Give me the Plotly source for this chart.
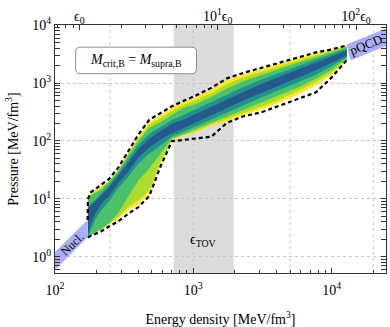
import numpy as np
import plotly.graph_objects as go

# energy density grid [MeV/fm^3]
eps = [173, 180, 195, 215, 245, 285, 335, 400, 480, 580, 700, 850, 1050, 1350,
       1750, 2300, 3100, 4200, 5700, 7700, 10000, 12800]

# log10(pressure / MeV fm^-3): upper / lower edge of each band
logp_yellow_hi = [0.978, 1.081, 1.142, 1.211, 1.305, 1.495, 1.779, 2.064, 2.323, 2.443, 2.564,
                  2.667, 2.754, 2.883, 3.047, 3.150, 3.236, 3.340, 3.426, 3.512, 3.572, 3.641]
logp_lgreen_hi = [0.969, 1.064, 1.124, 1.185, 1.297, 1.478, 1.754, 2.029, 2.271, 2.391, 2.512,
                  2.616, 2.702, 2.822, 2.978, 3.098, 3.193, 3.297, 3.391, 3.478, 3.555, 3.633]
logp_green_hi = [0.960, 1.047, 1.098, 1.150, 1.288, 1.460, 1.719, 1.995, 2.219, 2.323, 2.443,
                 2.564, 2.633, 2.754, 2.900, 3.029, 3.133, 3.245, 3.348, 3.443, 3.529, 3.616]
logp_teal_hi = [0.857, 0.909, 0.978, 1.081, 1.236, 1.426, 1.667, 1.926, 2.116, 2.236, 2.357,
                2.443, 2.547, 2.667, 2.797, 2.926, 3.055, 3.176, 3.288, 3.400, 3.495, 3.590]
logp_blue_hi = [0.823, 0.874, 0.943, 1.047, 1.185, 1.392, 1.598, 1.857, 2.029, 2.167, 2.288,
                2.366, 2.469, 2.590, 2.710, 2.840, 2.978, 3.107, 3.228, 3.348, 3.452, 3.555]
logp_blue_lo = [0.374, 0.564, 0.754, 0.909, 1.047, 1.271, 1.460, 1.719, 1.892, 2.029, 2.133,
                2.228, 2.331, 2.452, 2.572, 2.702, 2.840, 2.969, 3.098, 3.228, 3.357, 3.478]
logp_teal_lo = [0.357, 0.443, 0.650, 0.805, 0.960, 1.185, 1.374, 1.616, 1.788, 1.926, 2.081,
                2.167, 2.262, 2.383, 2.495, 2.616, 2.754, 2.883, 3.012, 3.150, 3.297, 3.452]
logp_green_lo = [0.349, 0.383, 0.426, 0.478, 0.581, 0.754, 1.029, 1.323, 1.529, 1.788, 2.047,
                 2.124, 2.211, 2.323, 2.426, 2.547, 2.667, 2.797, 2.926, 3.081, 3.236, 3.426]
logp_lgreen_lo = [0.343, 0.374, 0.417, 0.469, 0.573, 0.685, 0.857, 0.978, 1.150, 1.650, 2.029,
                  2.107, 2.176, 2.288, 2.374, 2.486, 2.598, 2.719, 2.866, 3.021, 3.185, 3.409]
logp_yellow_lo = [0.340, 0.371, 0.412, 0.461, 0.564, 0.650, 0.797, 0.909, 1.098, 1.616, 2.021,
                  2.090, 2.159, 2.262, 2.340, 2.452, 2.547, 2.667, 2.805, 2.960, 3.150, 3.400]

# dashed envelope
eps_dash_hi = [172] + eps
logp_dash_hi = [0.633, 0.995, 1.107, 1.167, 1.236, 1.340, 1.529, 1.814, 2.107, 2.366, 2.478, 2.598,
                2.693, 2.788, 2.917, 3.081, 3.176, 3.262, 3.362, 3.443, 3.529, 3.581, 3.650]
logp_dash_lo = [0.331, 0.357, 0.392, 0.435, 0.521, 0.607, 0.736, 0.857, 1.047, 1.564, 1.995,
                2.021, 2.038, 2.073, 2.314, 2.426, 2.495, 2.607, 2.728, 2.840, 3.098, 3.391]

# nuclear and pQCD limits
nucl_eps = [100, 172]
logp_nucl_hi = [0.081, 0.633]
logp_nucl_lo = [-0.229, 0.335]
pqcd_eps_hi = [12800, 26000]
logp_pqcd_hi = [3.667, 3.965]
pqcd_eps_lo = [13700, 26000]
logp_pqcd_lo = [3.391, 3.660]

eps0 = 150
eps_tov = [720, 1960]
grid_eps = [250, 1000, 5000, 20000]

band_col = "#aaaef5"
levels = [
    (logp_yellow_lo, logp_yellow_hi, "#fde725"),
    (logp_lgreen_lo, logp_lgreen_hi, "#addc30"),
    (logp_green_lo, logp_green_hi, "#4bc16c"),
    (logp_teal_lo, logp_teal_hi, "#21918c"),
    (logp_blue_lo, logp_blue_hi, "#24598b"),
]

fig = go.Figure()

for lo, hi, col in levels:
    fig.add_trace(go.Scatter(
        x=eps + eps[::-1],
        y=list(10 ** np.array(hi)) + list(10 ** np.array(lo[::-1])),
        fill="toself", fillcolor=col, mode="lines",
        line=dict(color=col, width=0.5), hoverinfo="skip", showlegend=False))

# nucl band
fig.add_trace(go.Scatter(
    x=nucl_eps + nucl_eps[::-1],
    y=list(10 ** np.array(logp_nucl_hi)) + list(10 ** np.array(logp_nucl_lo[::-1])),
    fill="toself", fillcolor=band_col, mode="lines", line=dict(width=0),
    hoverinfo="skip", showlegend=False))
# pqcd band
fig.add_trace(go.Scatter(
    x=pqcd_eps_hi + pqcd_eps_lo[::-1],
    y=list(10 ** np.array(logp_pqcd_hi)) + list(10 ** np.array(logp_pqcd_lo[::-1])),
    fill="toself", fillcolor=band_col, mode="lines", line=dict(width=0),
    hoverinfo="skip", showlegend=False))

# dashed envelope
for ex, lp in [(eps_dash_hi, logp_dash_hi), (eps, logp_dash_lo)]:
    fig.add_trace(go.Scatter(x=ex, y=10 ** np.array(lp), mode="lines",
                             line=dict(color="black", width=2.2, dash="4px,3px"),
                             hoverinfo="skip", showlegend=False))

# dummy trace so the top axis shows
fig.add_trace(go.Scatter(x=[eps0], y=[1], xaxis="x2", mode="markers",
                         marker=dict(opacity=0), hoverinfo="skip", showlegend=False))

# eps_TOV band + extra grid
fig.add_shape(type="rect", x0=eps_tov[0], x1=eps_tov[1], xref="x", yref="paper", y0=0, y1=1,
              fillcolor="#dcdcdc", line=dict(width=0), layer="below")
for g in grid_eps:
    fig.add_shape(type="line", x0=g, x1=g, xref="x", yref="paper", y0=0, y1=1,
                  line=dict(color="#c8c8c8", width=1, dash="dot"), layer="between")

# rounded box (paper coords)
bx0, bx1, by0, by1 = 0.0624, 0.4275, 0.8036, 0.9107
rx, ry = 0.0151, 0.0201
path = (f"M {bx0+rx},{by0} L {bx1-rx},{by0} Q {bx1},{by0} {bx1},{by0+ry} "
        f"L {bx1},{by1-ry} Q {bx1},{by1} {bx1-rx},{by1} L {bx0+rx},{by1} "
        f"Q {bx0},{by1} {bx0},{by1-ry} L {bx0},{by0+ry} Q {bx0},{by0} {bx0+rx},{by0} Z")
fig.add_shape(type="path", path=path, xref="paper", yref="paper",
              fillcolor="white", line=dict(color="#8c8c8c", width=1), layer="above")

fig.add_annotation(x=0.2443, y=0.857, xref="paper", yref="paper", showarrow=False,
                   xanchor="center", yanchor="middle",
                   text="<i>M</i><sub>crit,B</sub> = <i>M</i><sub>supra,B</sub>",
                   font=dict(size=14))
fig.add_annotation(x=np.log10(133.6), y=np.log10(1.66), showarrow=False, text="Nucl.",
                   xanchor="center", yanchor="middle", textangle=-44, font=dict(size=12))
fig.add_annotation(x=np.log10(17810), y=np.log10(4650), showarrow=False, text="pQCD",
                   xanchor="center", yanchor="middle", textangle=-22, font=dict(size=13))
fig.add_annotation(x=np.log10(1171), y=np.log10(1.94), showarrow=False,
                   xanchor="center", yanchor="middle",
                   text="ϵ<sub>TOV</sub>", font=dict(size=14))

x_minor = [m * d for d in [100, 1000] for m in range(2, 10)] + [20000]
top_minor = [eps0 * m / 10 for m in [7, 8, 9]] + [eps0 * m * d for d in [1, 10] for m in range(2, 10)]
y_minor = [m * d for d in [0.1, 1, 10, 100, 1000] for m in range(2, 10)]

ax_common = dict(type="log", ticks="inside", ticklen=5, tickwidth=1, tickcolor="#333",
                 zeroline=False, tickfont=dict(size=14), automargin=False)

fig.update_layout(
    width=390, height=327,
    margin=dict(l=55, r=3.5, t=24.5, b=54),
    plot_bgcolor="white", paper_bgcolor="white",
    font=dict(family="Liberation Serif", size=14, color="black"),
    showlegend=False,
    xaxis=dict(**ax_common, range=[2, 4.393],
               tickvals=[100, 1000, 10000],
               ticktext=["10<sup>2</sup>", "10<sup>3</sup>", "10<sup>4</sup>"],
               ticklabelstandoff=4,
               showline=True, linecolor="#333", linewidth=1, mirror=True, showgrid=False,
               minor=dict(tickvals=x_minor, ticks="inside", ticklen=3, tickcolor="#333"),
               title=dict(text="Energy density [MeV/fm<sup>3</sup>]", standoff=18,
                          font=dict(size=14))),
    xaxis2=dict(**ax_common, range=[2, 4.393], overlaying="x", side="top",
                tickvals=[eps0, 10 * eps0, 100 * eps0],
                ticktext=["ϵ<sub>0</sub>", "10<sup>1</sup>ϵ<sub>0</sub>",
                          "10<sup>2</sup>ϵ<sub>0</sub>"],
                showgrid=False, showline=False,
                minor=dict(tickvals=top_minor, ticks="inside", ticklen=3, tickcolor="#333")),
    yaxis=dict(**ax_common, range=[-0.281, 4.003],
               tickvals=[1, 10, 100, 1000, 10000],
               ticktext=["10<sup>0</sup>", "10<sup>1</sup>", "10<sup>2</sup>",
                         "10<sup>3</sup>", "10<sup>4</sup>"],
               showline=True, linecolor="#333", linewidth=1, mirror="allticks",
               showgrid=True, gridcolor="#c8c8c8", griddash="dot", gridwidth=1,
               minor=dict(tickvals=y_minor, ticks="inside", ticklen=3, tickcolor="#333"),
               title=dict(text="Pressure [MeV/fm<sup>3</sup>]", standoff=10,
                          font=dict(size=14))),
)

# drop the default 8px page margin so the figure fills the window
fig.write_html("out.html", config={"displayModeBar": False},
               post_script="document.body.style.margin='0px';")
